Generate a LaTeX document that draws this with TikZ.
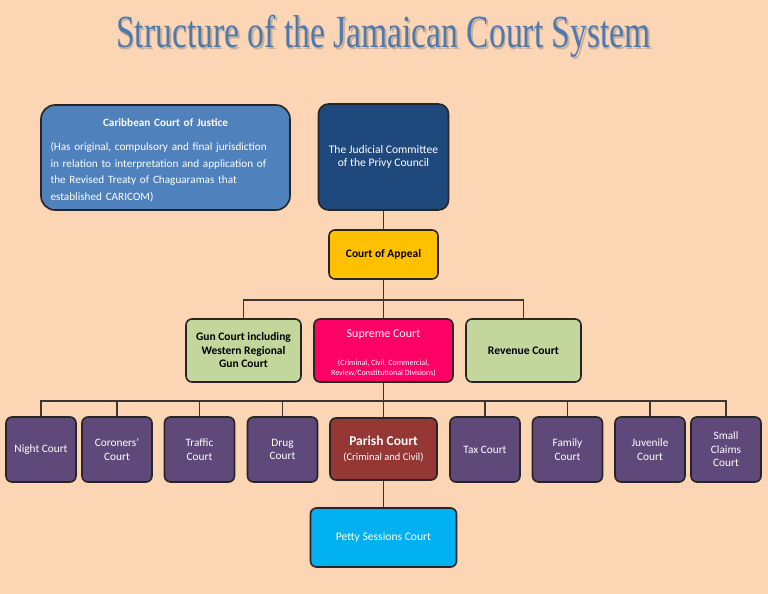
\documentclass[tikz,border=0pt]{standalone}
\usepackage{fontspec}
\setmainfont{Carlito}
\newfontfamily\titlefont{Liberation Serif}
\usepackage{xcolor}
\usepackage{tikz}
\usetikzlibrary{positioning}

\definecolor{peach}{HTML}{FCD5B4}
\definecolor{titleblue}{HTML}{4F79AC}
\definecolor{boxline}{HTML}{262626}
\definecolor{linkcol}{HTML}{3F3430}
\definecolor{ccjblue}{HTML}{4F81BD}
\definecolor{navy}{HTML}{1F497D}
\definecolor{gold}{HTML}{FFC000}
\definecolor{olive}{HTML}{C3D69B}
\definecolor{crimson}{HTML}{FF0066}
\definecolor{maroon}{HTML}{953735}
\definecolor{plum}{HTML}{5F497A}
\definecolor{sky}{HTML}{00B0F0}

\begin{document}
\begin{tikzpicture}[x=1pt, y=-1pt,
    court/.style={draw=boxline, line width=1.6pt, rounded corners=6pt, align=center,
      inner sep=2pt, font=\fontsize{11.3}{13.5}\selectfont},
    lower/.style={court, fill=plum, text=white, minimum width=70pt, minimum height=65pt},
    link/.style={draw=linkcol, line width=1.3pt}]
    % Page
    \fill[peach] (0,0) rectangle (768,594);
    \useasboundingbox (0,0) rectangle (768,594);

    % Title
    \node[anchor=base, text=black!45, opacity=0.5] (titleshadow) at (385,49.5)
      {\titlefont\fontsize{46}{46}\selectfont\scalebox{0.73}[1]{Structure of the Jamaican Court System}};
    \node[anchor=base, text=titleblue] (title) at (383.5,48)
      {\titlefont\fontsize{46}{46}\selectfont\scalebox{0.73}[1]{Structure of the Jamaican Court System}};

    % Top courts
    \node[court, rounded corners=14pt, fill=ccjblue, text=white, minimum width=249pt, minimum height=105pt,
      text width=230pt, align=left, font=\fontsize{11.2}{16.7}\selectfont] (ccj) at (165.5,157.5)
      {\rule{0pt}{14pt}\makebox[\linewidth]{\textbf{Caribbean Court of Justice}}\\[7pt]
       (Has original, compulsory and final jurisdiction\\
       in relation to interpretation and application of\\
       the Revised Treaty of Chaguaramas that\\
       established CARICOM)};
    \node[court, rounded corners=10pt, fill=navy, text=white, minimum width=130pt, minimum height=106pt,
      font=\fontsize{11.6}{13}\selectfont] (jcpc) at (383.5,157)
      {The Judicial Committee\\of the Privy Council};
    \node[court, fill=gold, minimum width=109pt, minimum height=49pt, font=\bfseries\fontsize{11.5}{13.5}\selectfont] (appeal) at (383.5,254.5) {Court of Appeal};

    % Superior courts
    \node[court, fill=olive, minimum width=115pt, minimum height=63pt, font=\bfseries\fontsize{11.5}{13.5}\selectfont] (gun) at (243.5,350.5)
      {Gun Court including\\Western Regional\\Gun Court};
    \node[court, fill=crimson, text=white, minimum width=139pt, minimum height=63pt, font=\fontsize{8}{10}\selectfont] (supreme) at (383.5,350.5)
      {{\fontsize{12}{14}\selectfont\rule{0pt}{13pt}Supreme Court}\\[18pt](Criminal, Civil, Commercial,\\Review/Constitutional Divisions)};
    \node[court, fill=olive, minimum width=115pt, minimum height=63pt, font=\bfseries\fontsize{11.6}{13.5}\selectfont] (revenue) at (523.5,350.5)
      {Revenue Court};

    % Lower courts
    \foreach \name/\xpos/\label in {night/41/Night Court, coroners/117/Coroners'\\Court,
        traffic/199.5/Traffic\\Court, drug/282.5/Drug\\Court, tax/485/Tax Court,
        family/567.5/Family\\Court, juvenile/650/Juvenile\\Court, claims/726/Small\\Claims\\Court}
      \node[lower] (\name) at (\xpos,449.5) {\label};
    \node[court, fill=maroon, text=white, minimum width=107pt, minimum height=62pt, font=\fontsize{10.5}{12}\selectfont] (parish) at (383.5,449)
      {{\bfseries\fontsize{13.5}{15}\selectfont Parish Court}\\[3pt](Criminal and Civil)};
    \node[court, fill=sky, text=white, minimum width=146pt, minimum height=59pt, font=\fontsize{11.6}{13}\selectfont] (petty) at (383.5,537.5)
      {Petty Sessions Court};

    % Connectors
    \coordinate (upperbus) at (383.5,300);
    \coordinate (lowerbus) at (383.5,401);
    \draw[link] (jcpc) -- (appeal);
    \draw[link] (appeal) -- (upperbus);
    \draw[link] (upperbus) -| (gun.north);
    \draw[link] (upperbus) -| (revenue.north);
    \draw[link] (upperbus) -- (supreme);
    \draw[link] (supreme) -- (parish);
    \foreach \name in {night,coroners,traffic,drug,tax,family,juvenile,claims}
      \draw[link] (lowerbus) -| (\name.north);
    \draw[link] (parish) -- (petty);
\end{tikzpicture}
\end{document}
